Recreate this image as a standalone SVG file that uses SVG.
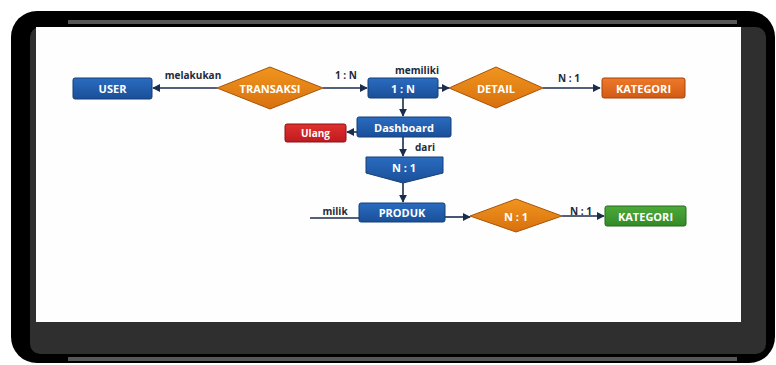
<svg xmlns="http://www.w3.org/2000/svg" width="776" height="365" viewBox="0 0 776 365">
<defs>
<linearGradient id="gBlue" x1="0" y1="0" x2="0" y2="1"><stop offset="0" stop-color="#2a6cc0"/><stop offset="1" stop-color="#1a4f98"/></linearGradient>
<linearGradient id="gOrange" x1="0" y1="0" x2="0" y2="1"><stop offset="0" stop-color="#f0951e"/><stop offset="1" stop-color="#d8700e"/></linearGradient>
<linearGradient id="gOrange2" x1="0" y1="0" x2="0" y2="1"><stop offset="0" stop-color="#ee7a2a"/><stop offset="1" stop-color="#d25a14"/></linearGradient>
<linearGradient id="gRed" x1="0" y1="0" x2="0" y2="1"><stop offset="0" stop-color="#e0302e"/><stop offset="1" stop-color="#bf1a20"/></linearGradient>
<linearGradient id="gGreen" x1="0" y1="0" x2="0" y2="1"><stop offset="0" stop-color="#4eaa3a"/><stop offset="1" stop-color="#328a26"/></linearGradient>
<marker id="ah" viewBox="0 0 10 10" refX="9" refY="5" markerWidth="8" markerHeight="8" markerUnits="userSpaceOnUse" orient="auto"><path d="M0,0 L10,5 L0,10 Z" fill="#1b2d4d"/></marker>
</defs>
<style>
.blue{fill:url(#gBlue);stroke:#123e78;stroke-width:1}
.dia{fill:url(#gOrange);stroke:#a85408;stroke-width:1}
.ora{fill:url(#gOrange2);stroke:#a4420c;stroke-width:1}
.red{fill:url(#gRed);stroke:#8e1014;stroke-width:1}
.grn{fill:url(#gGreen);stroke:#236a1a;stroke-width:1}
.t{font-family:"Open Sans","Liberation Sans",sans-serif;font-weight:bold;font-size:11px;fill:#ffffff;text-anchor:middle;dominant-baseline:central}
.lbl{font-family:"Open Sans","Liberation Sans",sans-serif;font-weight:bold;font-size:10px;fill:#1e2a3a;text-anchor:middle;dominant-baseline:central}
.c{fill:none;stroke:#1b2d4d;stroke-width:1.6}
</style>
<!-- frame -->
<rect x="11" y="11" width="764" height="352" rx="26" fill="#000"/>
<rect x="30" y="27" width="736" height="327" rx="10" fill="#2f2f2f"/>
<rect x="68" y="20" width="669" height="4" fill="#575757"/>
<rect x="68" y="357" width="669" height="4" fill="#575757"/>
<rect x="36" y="27" width="705" height="295" fill="#fefefe"/>

<g id="connectors">
<line class="c" x1="217" y1="88" x2="153" y2="88" marker-end="url(#ah)"/>
<line class="c" x1="323" y1="88" x2="367" y2="88" marker-end="url(#ah)"/>
<line class="c" x1="438" y1="88" x2="449" y2="88" marker-end="url(#ah)"/>
<line class="c" x1="543" y1="88" x2="600" y2="88" marker-end="url(#ah)"/>
<line class="c" x1="403" y1="98" x2="403" y2="116" marker-end="url(#ah)"/>
<line class="c" x1="357" y1="132" x2="347" y2="132" marker-end="url(#ah)"/>
<line class="c" x1="403" y1="137" x2="403" y2="156" marker-end="url(#ah)"/>
<line class="c" x1="403" y1="183" x2="403" y2="202" marker-end="url(#ah)"/>
<line class="c" x1="310" y1="218" x2="359" y2="218"/>
<line class="c" x1="445" y1="217" x2="470" y2="217" marker-end="url(#ah)"/>
<line class="c" x1="562" y1="216" x2="604" y2="216" marker-end="url(#ah)"/>
<text class="lbl" x="193" y="75">melakukan</text>
<text class="lbl" x="346" y="75">1 : N</text>
<text class="lbl" x="417" y="70">memiliki</text>
<text class="lbl" x="569" y="78">N : 1</text>
<text class="lbl" x="425" y="147">dari</text>
<text class="lbl" x="335" y="211">milik</text>
<text class="lbl" x="581" y="211">N : 1</text>
</g>

<g id="user"><rect class="blue" x="73" y="78" width="79" height="21" rx="2"/><text class="t" x="112.5" y="88.5">USER</text></g>
<g id="transaksi"><polygon class="dia" points="270,67 323,88 270,109 217,88"/><text class="t" x="270" y="88.5">TRANSAKSI</text></g>
<g id="rel1n"><rect class="blue" x="368" y="78" width="70" height="20" rx="2"/><text class="t" x="403" y="88">1 : N</text></g>
<g id="detail"><polygon class="dia" points="496,67 543,88 496,108 449,88"/><text class="t" x="496" y="88">DETAIL</text></g>
<g id="kategori1"><rect class="ora" x="602" y="78" width="83" height="20" rx="2"/><text class="t" x="643.5" y="88">KATEGORI</text></g>
<g id="dashboard"><rect class="blue" x="357" y="117" width="94" height="20" rx="2"/><text class="t" x="404" y="127">Dashboard</text></g>
<g id="ulang"><rect class="red" x="285" y="124" width="61" height="18" rx="2"/><text class="t" x="315.5" y="133" style="font-size:10px">Ulang</text></g>
<g id="reln1"><polygon class="blue" points="366,157 443,157 443,173 403,183 366,173"/><text class="t" x="404" y="167">N : 1</text></g>
<g id="produk"><rect class="blue" x="359" y="203" width="86" height="19" rx="2"/><text class="t" x="402" y="212.5">PRODUK</text></g>
<g id="reln1b"><polygon class="dia" points="516,199 562,216 516,232 470,216"/><text class="t" x="516" y="216">N : 1</text></g>
<g id="kategori2"><rect class="grn" x="605" y="206" width="81" height="20" rx="2"/><text class="t" x="645.5" y="216">KATEGORI</text></g>
</svg>
